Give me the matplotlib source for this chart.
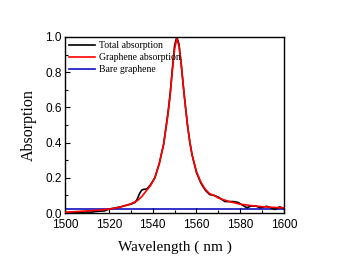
import matplotlib
matplotlib.use("Agg")
import matplotlib.pyplot as plt
from matplotlib.ticker import MultipleLocator

# Graphene absorption (red)
wl_red = [1500, 1505, 1510, 1515, 1520, 1525, 1530, 1533, 1535, 1537, 1539, 1541,
          1543, 1545, 1547, 1548, 1549, 1550, 1551, 1552, 1553, 1554, 1555, 1556,
          1557, 1558, 1560, 1562, 1564, 1566, 1568, 1570, 1575, 1580, 1585, 1590,
          1595, 1600]
abs_red = [0.005, 0.008, 0.012, 0.016, 0.022, 0.033, 0.052, 0.07, 0.093, 0.125, 0.155, 0.20,
           0.28, 0.39, 0.56, 0.67, 0.81, 0.93, 0.99, 0.95, 0.85, 0.72, 0.60, 0.49,
           0.40, 0.33, 0.235, 0.175, 0.135, 0.11, 0.10, 0.085, 0.065, 0.05, 0.042, 0.036,
           0.032, 0.03]

# Total absorption (black)
wl_blk = [1500, 1503, 1506, 1509, 1512, 1515, 1518, 1520, 1525, 1530, 1532, 1533, 1534,
          1535, 1536, 1537, 1538, 1539, 1541, 1543, 1545, 1547, 1548, 1549, 1550,
          1551, 1552, 1553, 1554, 1555, 1556, 1557, 1558, 1560, 1562, 1564, 1566,
          1568, 1570, 1573, 1575, 1577, 1579, 1581, 1583, 1585, 1587, 1589, 1592,
          1594, 1596, 1598, 1600]
abs_blk = [0.0, 0.003, 0.002, 0.006, 0.005, 0.01, 0.012, 0.022, 0.034, 0.05, 0.06, 0.08, 0.11,
           0.13, 0.135, 0.135, 0.145, 0.16, 0.20, 0.28, 0.39, 0.57, 0.68, 0.82, 0.95,
           1.0, 0.96, 0.85, 0.72, 0.60, 0.49, 0.40, 0.33, 0.23, 0.17, 0.13, 0.105,
           0.10, 0.09, 0.065, 0.065, 0.065, 0.06, 0.045, 0.03, 0.04, 0.04, 0.03, 0.038,
           0.03, 0.02, 0.035, 0.025]

# Bare graphene (blue)
wl_bare = [1500, 1600]
abs_bare = [0.022, 0.022]

labels = ["Total absorption", "Graphene absorption", "Bare graphene"]

fig = plt.figure(figsize=(3.37, 2.62), dpi=100)
ax = fig.add_axes([0.193, 0.187, 0.650, 0.672])

ax.plot(wl_bare, abs_bare, color="#1010c0", lw=1.2, label=labels[2], zorder=1)
ax.plot(wl_blk, abs_blk, color="black", lw=1.2, label=labels[0], zorder=2)
ax.plot(wl_red, abs_red, color="red", lw=1.2, label=labels[1], zorder=3)

ax.set_xlim(1500, 1600)
ax.set_ylim(0, 1.0)
ax.xaxis.set_major_locator(MultipleLocator(20))
ax.xaxis.set_minor_locator(MultipleLocator(10))
ax.yaxis.set_major_locator(MultipleLocator(0.2))
ax.yaxis.set_minor_locator(MultipleLocator(0.1))
ax.yaxis.set_major_formatter(matplotlib.ticker.FormatStrFormatter("%.1f"))
ax.tick_params(which="both", direction="in", top=False, right=False, width=0.8)
ax.tick_params(which="major", length=3.5, labelsize=8.5)
ax.tick_params(axis="x", which="major", pad=4)
ax.tick_params(axis="y", which="major", pad=2.5)
ax.tick_params(which="minor", length=2)
for t in ax.get_xticklabels() + ax.get_yticklabels():
    t.set_fontfamily("Liberation Sans")
for s in ax.spines.values():
    s.set_linewidth(1.0)

ax.set_xlabel("Wavelength ( nm )", fontfamily="Liberation Serif", fontsize=11, labelpad=7)
ax.set_ylabel("Absorption", fontfamily="Liberation Serif", fontsize=11.5, labelpad=6)

h, l = ax.get_legend_handles_labels()
order = [1, 2, 0]
leg = ax.legend([h[i] for i in order], [l[i] for i in order], loc="upper left",
                frameon=False, prop={"family": "Liberation Serif", "size": 7},
                handlelength=2.6, handletextpad=0.4, labelspacing=0.3,
                borderaxespad=0.15, borderpad=0.3)

fig.savefig("out.png", dpi=100)
